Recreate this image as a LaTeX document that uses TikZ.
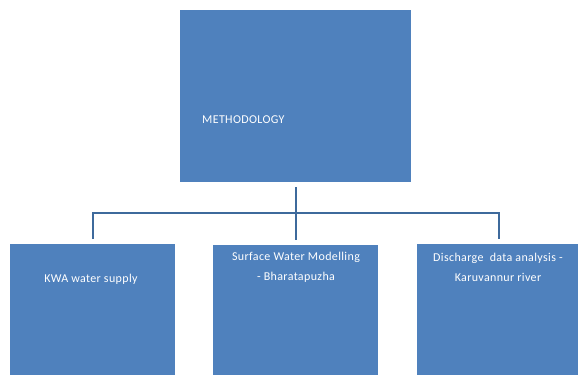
\documentclass[tikz,border=0pt]{standalone}
\usepackage{fontspec}
\setmainfont{Carlito}[LetterSpace=3]
\definecolor{boxblue}{RGB}{79,129,189}
\definecolor{lineblue}{RGB}{62,106,156}
\begin{document}
\begin{tikzpicture}[x=1pt,y=-1pt,
  box/.style={fill=boxblue, draw=none, inner sep=0pt, anchor=north west},
  conn/.style={draw=lineblue, line width=2.4pt, shorten <=5pt, shorten >=5pt},
  lbl/.style={text=white, font=\fontsize{12}{20}\selectfont, inner sep=0pt, align=center}]
\useasboundingbox (0,0) rectangle (578,375);
\node[box, minimum width=231pt, minimum height=172pt] (top) at (180,10) {};
\node[box, minimum width=165pt, minimum height=131pt] (b1) at (10,244) {};
\node[box, minimum width=165pt, minimum height=130pt] (b2) at (213,245) {};
\node[box, minimum width=163pt, minimum height=131pt] (b3) at (417,244) {};
\coordinate (bar) at (296,213);
\draw[conn] (top.south) -- (b2.north);
\draw[conn] (b1.north) -- (b1.north |- bar) -- (b3.north |- bar) -- (b3.north);
\node[lbl, anchor=west] (t0) at (202,120) {METHODOLOGY};
\node[lbl] (t1) at (91,279) {KWA water supply};
\node[lbl] (t2) at (296,267) {Surface Water Modelling\\- Bharatapuzha};
\node[lbl] (t3) at (498,267) {Discharge~~data analysis -\\Karuvannur river};
\end{tikzpicture}
\end{document}
